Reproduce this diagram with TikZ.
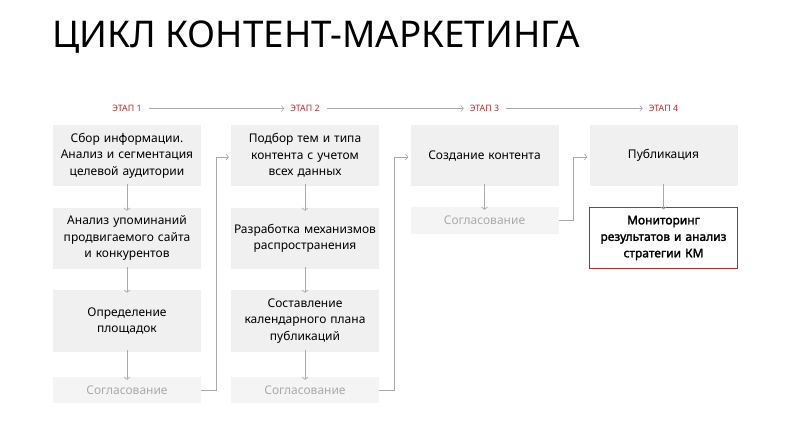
\documentclass[tikz,border=0pt]{standalone}
\usepackage{fontspec}
\setmainfont{Noto Sans}
\newfontfamily\debeli{Noto Sans}[FakeBold=2]
\usetikzlibrary{arrows.meta,calc}

\definecolor{etapred}{RGB}{185,40,40}
\definecolor{boxgray}{RGB}{240,240,240}
\definecolor{linegray}{RGB}{170,170,170}

\begin{document}
\begin{tikzpicture}[x=1pt,y=-1pt,
    blok/.style={fill=boxgray,minimum width=148pt,minimum height=61pt,
        text width=144pt,align=center,inner sep=0pt,font=\fontsize{12}{16.5}\selectfont},
    sogl/.style={blok,minimum height=26pt,fill=boxgray!70,text=linegray},
    etap/.style={text=etapred,font=\fontsize{8.8}{10}\selectfont,inner sep=2pt},
    veza/.style={draw=linegray,semithick,>={Straight Barb[length=2.5pt,width=6pt]},->}]
       \useasboundingbox (0,0) rectangle (800,430);

       %naslov
       \node[anchor=base west,inner sep=0pt,font=\fontsize{36.8}{42}\selectfont] (naslov) at (52,48) {ЦИКЛ КОНТЕНТ-МАРКЕТИНГА};

       %etape
       \node[etap] (s1) at (127,108.5) {ЭТАП 1};
       \node[etap] (s2) at (305,108.5) {ЭТАП 2};
       \node[etap] (s3) at (484.5,108.5) {ЭТАП 3};
       \node[etap] (s4) at (663.5,108.5) {ЭТАП 4};
       \draw[veza] ([xshift=5pt]s1.east) -- ([xshift=-4pt]s2.west);
       \draw[veza] ([xshift=5pt]s2.east) -- ([xshift=-4pt]s3.west);
       \draw[veza] ([xshift=5pt]s3.east) -- ([xshift=-4pt]s4.west);

       %prvi stupac
       \node[blok] (a1) at (127,155.5) {Сбор информации.\\Анализ и сегментация\\целевой аудитории};
       \node[blok] (a2) at (127,238.5) {Анализ упоминаний\\продвигаемого сайта\\и конкурентов};
       \node[blok,minimum height=62pt] (a3) at (127,321) {Определение\\площадок};
       \node[sogl] (ag1) at (127,390) {Согласование};

       %drugi stupac
       \node[blok] (b1) at (305,155.5) {Подбор тем и типа\\контента с учетом\\всех данных};
       \node[blok] (b2) at (305,238.5) {Разработка механизмов\\распространения};
       \node[blok,minimum height=62pt] (b3) at (305,321) {Составление\\календарного плана\\публикаций};
       \node[sogl] (ag2) at (305,390) {Согласование};

       %treci i cetvrti
       \node[blok] (c1) at (484.5,155.5) {Создание контента};
       \node[sogl,minimum height=27pt] (ag3) at (484.5,220.5) {Согласование};
       \node[blok] (d1) at (663.5,155.5) {Публикация};
       \node[blok,fill=white,draw=etapred,line width=1.6pt,font=\fontsize{12}{16.5}\selectfont\debeli] (mon) at (663.5,238) {Мониторинг\\результатов и анализ\\стратегии КМ};

       %strelice dolje
       \draw[veza] ([yshift=2pt]a1.south) -- ([yshift=-3pt]a2.north);
       \draw[veza] ([yshift=2pt]a2.south) -- ([yshift=-3pt]a3.north);
       \draw[veza] ([yshift=2pt]a3.south) -- ([yshift=-3pt]ag1.north);
       \draw[veza] ([yshift=2pt]b1.south) -- ([yshift=-3pt]b2.north);
       \draw[veza] ([yshift=2pt]b2.south) -- ([yshift=-3pt]b3.north);
       \draw[veza] ([yshift=2pt]b3.south) -- ([yshift=-3pt]ag2.north);
       \draw[veza] ([yshift=2pt]c1.south) -- ([yshift=-3pt]ag3.north);
       \draw[veza] ([yshift=2pt]d1.south) -- ([yshift=-3pt]mon.north);

       %prijelazi
       \draw[veza] (ag1.east) -- ++(15,0) |- ([xshift=-2pt,yshift=-1.5pt]b1.west);
       \draw[veza] (ag2.east) -- ++(15,0) |- ([xshift=-2pt,yshift=-1.5pt]c1.west);
       \draw[veza] (ag3.east) -- ++(15,0) |- ([xshift=-2pt,yshift=-1.5pt]d1.west);
\end{tikzpicture}
\end{document}
